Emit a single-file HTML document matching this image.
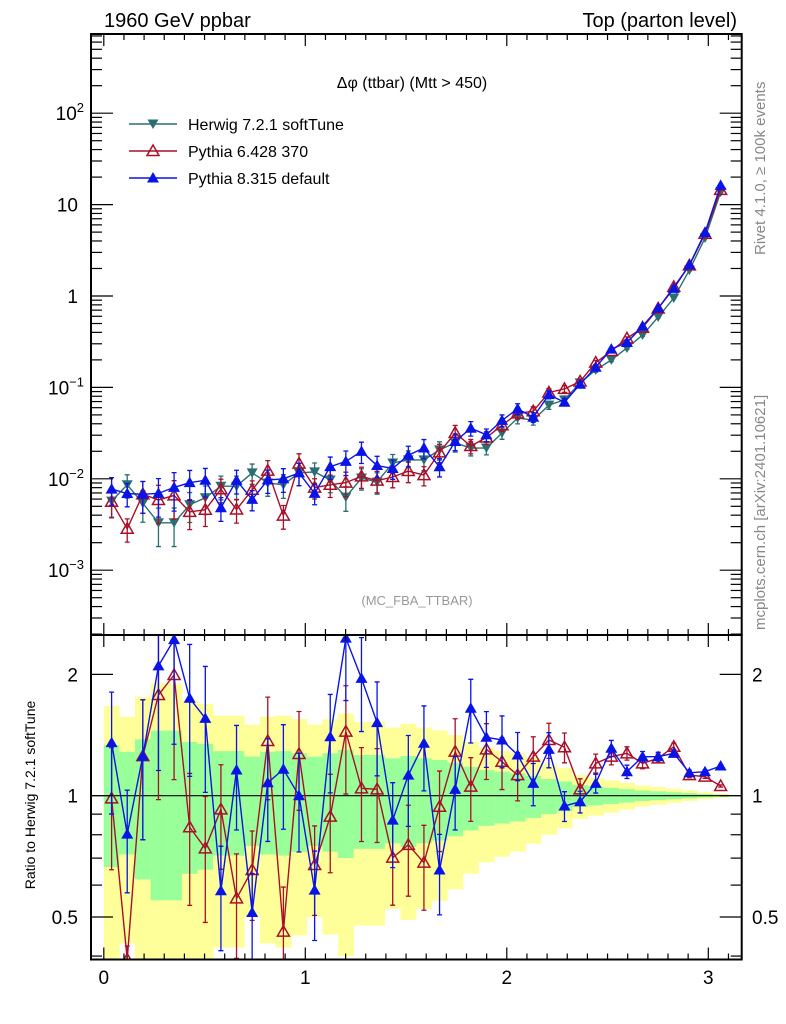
<!DOCTYPE html>
<html><head><meta charset="utf-8"><style>
html,body{margin:0;padding:0;background:#fff;overflow:hidden;width:786px;height:1024px}
svg{display:block;font-family:"Liberation Sans",sans-serif}
</style></head><body>
<svg id="c" width="786" height="1024" viewBox="0 0 786 1024" xmlns="http://www.w3.org/2000/svg">
<defs>
<clipPath id="clipMain"><rect x="91" y="34" width="651" height="601"/></clipPath>
<clipPath id="clipRatio"><rect x="91" y="635" width="651" height="325"/></clipPath>
</defs>
<g id="bands" clip-path="url(#clipRatio)"></g>
<g id="series"></g>
<g id="axes"></g>
<text x="104" y="27" font-size="20">1960 GeV ppbar</text>
<text x="737" y="27" font-size="20" text-anchor="end">Top (parton level)</text>
<text x="412" y="88" font-size="16" text-anchor="middle">Δφ (ttbar) (Mtt &gt; 450)</text>
<text x="417" y="605" font-size="13" fill="#999" text-anchor="middle">(MC_FBA_TTBAR)</text>
<text transform="translate(765,255) rotate(-90)" font-size="15" fill="#888">Rivet 4.1.0, ≥ 100k events</text>
<text transform="translate(765,630) rotate(-90)" font-size="15" fill="#888">mcplots.cern.ch [arXiv:2401.10621]</text>
<text transform="translate(35,795) rotate(-90)" font-size="14" text-anchor="middle">Ratio to Herwig 7.2.1 softTune</text>
<g id="legend"></g>
</svg>
<script>
const herwig=[0.0057,0.0086,0.0054,0.0033,0.0033,0.0052,0.0062,0.0083,0.0083,0.0116,0.0090,0.0086,0.0116,0.0119,0.0097,0.0063,0.0102,0.0092,0.0149,0.0161,0.0161,0.0207,0.0247,0.0217,0.0217,0.0317,0.0462,0.0439,0.064,0.073,0.112,0.155,0.200,0.270,0.374,0.589,0.95,1.92,4.31,13.7];
const herwigRelErr=[0.335,0.285,0.38,0.45,0.45,0.36,0.345,0.29,0.29,0.25,0.285,0.29,0.275,0.25,0.274,0.30,0.262,0.262,0.238,0.254,0.238,0.226,0.207,0.18,0.158,0.147,0.137,0.12,0.1,0.085,0.062,0.054,0.046,0.038,0.03,0.025,0.02,0.015,0.01,0.006];
const p6Ratio=[0.985,0.33,1.254,1.778,1.993,0.835,0.74,0.925,0.556,0.654,1.367,0.46,1.269,0.673,0.887,1.442,1.043,1.037,0.702,0.755,0.682,0.939,1.286,1.053,1.303,1.214,1.125,1.25,1.375,1.319,1.037,1.203,1.25,1.274,1.203,1.238,1.323,1.125,1.115,1.057];
const p8Ratio=[1.354,0.803,1.254,2.10,2.44,1.745,1.556,0.581,1.158,0.513,1.077,1.163,1.0,0.583,1.40,2.46,1.955,1.518,0.870,1.125,1.349,0.654,1.037,1.648,1.396,1.375,1.262,1.073,1.303,0.943,0.966,1.073,1.311,1.147,1.25,1.25,1.274,1.14,1.147,1.185];
const binLo=0, binW=0.0775;
const mainTicks=[[100,"10^2"],[10,"10"],[1,"1"],[0.1,"10^-1"],[0.01,"10^-2"],[0.001,"10^-3"]];
const ratioTicks=[[2,"2"],[1,"1"],[0.5,"0.5"]];
const xTicks=[0,1,2,3];

const NS="http://www.w3.org/2000/svg";
const L=91,R=741.7,T=34,MB=635,B=959.5;
const cl=(v,a,b)=>Math.max(a,Math.min(b,v));
const X=v=>103.8+201.5*v;
const Y=v=>cl(296-91.4*Math.log10(v),T,MB);
const RY=r=>cl(795.7-403*Math.log10(Math.max(r,1e-6)),MB,B);
function mk(tag,attrs,parent){const e=document.createElementNS(NS,tag);for(const k in attrs)e.setAttribute(k,attrs[k]);parent.appendChild(e);return e;}
const bands=document.getElementById('bands'),ser=document.getElementById('series'),ax=document.getElementById('axes'),leg=document.getElementById('legend');
const n=herwig.length;
for(let i=0;i<n;i++){
 const x0=X(binLo+i*binW),x1=X(binLo+(i+1)*binW),s=herwigRelErr[i];
 const lo2=Math.max(1-2*s,0.01);
 const y=mk('rect',{x:x0,y:RY(1+2*s),width:x1-x0+0.3,height:RY(lo2)-RY(1+2*s),fill:'#ffff99'},bands);
 
 
 const g=mk('rect',{x:x0,y:RY(1+s),width:x1-x0+0.3,height:RY(1-s)-RY(1+s),fill:'#99ff99'},bands);
 
 
}
const cx=i=>X(binLo+(i+0.5)*binW);
function marker(type,x,y,col,parent){
 let p;
 if(type==='down') p=mk('path',{d:`M${x-5.5},${y-4.5}L${x+5.5},${y-4.5}L${x},${y+5}Z`,fill:col},parent);
 else if(type==='open') p=mk('path',{d:`M${x-6},${y+4.5}L${x+6},${y+4.5}L${x},${y-6}Z`,fill:'none',stroke:col,'stroke-width':1.5},parent);
 else p=mk('path',{d:`M${x-6},${y+4.5}L${x+6},${y+4.5}L${x},${y-6}Z`,fill:col},parent);
 return p;
}
function drawSeries(name,vals,errs,col,type,yf,clip,lo,hi){
 const g=mk('g',{'clip-path':`url(#${clip})`},ser);
 
 
 let d='';
 vals.forEach((v,i)=>{d+=(i?'L':'M')+cx(i)+','+yf(v);});
 const ln=mk('path',{d:d,fill:'none',stroke:col,'stroke-width':1.4},g);
 
 
 vals.forEach((v,i)=>{
  const x=cx(i),e=errs[i]*v,yt=yf(v+e),yb=yf(Math.max(v-e,v*0.05));
  mk('path',{d:`M${x},${yt}L${x},${yb}M${x-2.5},${yt}L${x+2.5},${yt}M${x-2.5},${yb}L${x+2.5},${yb}`,stroke:col,'stroke-width':1.3},g);
  const py=yf(v);
  if(py>lo+1&&py<hi-1){
   const m=marker(type,x,py,col,g);
   
   
  }
 });
}
const p6=herwig.map((h,i)=>h*p6Ratio[i]);
const p8=herwig.map((h,i)=>h*p8Ratio[i]);
const C_H='#2a6e72',C_6='#a8102a',C_8='#0a14e6';
drawSeries('herwig-main',herwig,herwigRelErr,C_H,'down',Y,'clipMain',T,MB);
drawSeries('pythia6-main',p6,herwigRelErr,C_6,'open',Y,'clipMain',T,MB);
drawSeries('pythia8-main',p8,herwigRelErr,C_8,'up',Y,'clipMain',T,MB);
mk('line',{x1:L,x2:R,y1:RY(1),y2:RY(1),stroke:'#000','stroke-width':1.2},ser);
drawSeries('pythia6-ratio',p6Ratio,herwigRelErr,C_6,'open',RY,'clipRatio',MB-8,B+8);
drawSeries('pythia8-ratio',p8Ratio,herwigRelErr,C_8,'up',RY,'clipRatio',MB-8,B+8);
mk('rect',{x:L,y:T,width:R-L,height:MB-T,fill:'none',stroke:'#000','stroke-width':2},ax);
mk('rect',{x:L,y:MB,width:R-L,height:B-MB,fill:'none',stroke:'#000','stroke-width':2},ax);
function tick(x1,y1,x2,y2){mk('line',{x1,y1,x2,y2,stroke:'#000','stroke-width':1.2},ax);}
for(let k=0;k<=31;k++){const v=k/10,x=X(v);if(x>R)break;const maj=k%10===0,len=maj?12:6;
 [T,MB].forEach(y=>tick(x,y,x,y+len));[MB,B].forEach(y=>tick(x,y,x,y-len));}
xTicks.forEach(v=>{const t=mk('text',{x:X(v),y:984,'font-size':19,'text-anchor':'middle'},ax);t.textContent=v;
 
 });
const Yr=v=>296-91.4*Math.log10(v), RYr=r=>795.7-403*Math.log10(r);
for(let e=-4;e<=2;e++)for(let m=1;m<10;m++){const v=m*Math.pow(10,e),y=Yr(v);if(y<T||y>MB)continue;const len=m===1?22:11;tick(L,y,L+len,y);tick(R,y,R-len,y);}
mainTicks.forEach(([v,lab])=>{const t=mk('text',{x:78,y:Yr(v)+7,'font-size':19,'text-anchor':'end'},ax);
 const parts=lab.split('^');const a=document.createElementNS(NS,'tspan');a.textContent=parts[0];t.appendChild(a);
 if(parts[1]){const s=document.createElementNS(NS,'tspan');s.setAttribute('dy','-8');s.setAttribute('font-size','13');s.textContent=parts[1].replace('-','−');t.appendChild(s);t.setAttribute('x',84);}
 
 });
for(let e=-1;e<=0;e++)for(let m=1;m<10;m++){const v=m*Math.pow(10,e),y=RYr(v);if(y<MB||y>B)continue;const len=(v===1||v===2||v===0.5)?22:11;tick(L,y,L+len,y);tick(R,y,R-len,y);}
ratioTicks.forEach(([v,lab])=>{[[78,'end'],[752,'start']].forEach(([x,a])=>{const t=mk('text',{x:x,y:RYr(v)+7,'font-size':19,'text-anchor':a},ax);t.textContent=lab;
 
 });});
const legItems=[['Herwig 7.2.1 softTune',C_H,'down'],['Pythia 6.428 370',C_6,'open'],['Pythia 8.315 default',C_8,'up']];
legItems.forEach(([lab,col,type],i)=>{const y=124+i*27;
 const g=mk('g',{},leg);
 
 
 mk('line',{x1:129,x2:177,y1:y,y2:y,stroke:col,'stroke-width':1.4},g);
 marker(type,153,y,col,g);
 const t=mk('text',{x:188,y:y+6,'font-size':16},g);t.textContent=lab;});
</script>
</body></html>
